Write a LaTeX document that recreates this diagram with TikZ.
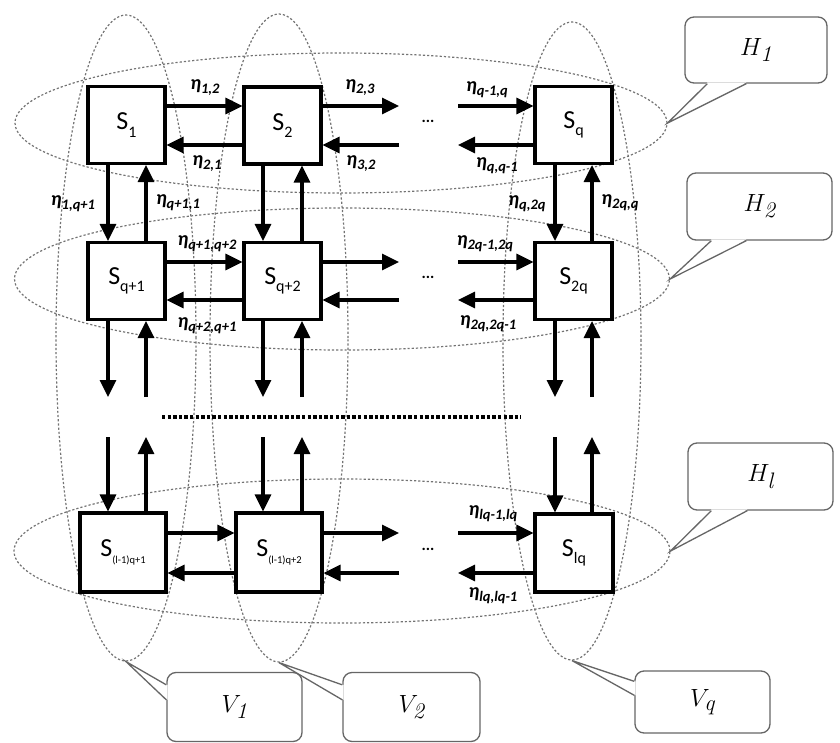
\documentclass[tikz,border=0pt]{standalone}
\usepackage{fontspec}
\usetikzlibrary{arrows.meta,shapes.geometric,calc}
\newfontfamily\lab{Carlito}
\newcommand\elab[1]{{\lab\bfseries\itshape\fontsize{20}{20}\selectfont η\raisebox{-0.2em}{\fontsize{14.5}{14.5}\selectfont #1}}}
\newcommand\slab[2][16]{{\lab\fontsize{26}{26}\selectfont S\raisebox{-0.28em}{\fontsize{#1}{#1}\selectfont #2}}}
\tikzset{
  sbox/.style={draw, line width=3.1pt, fill=white, minimum width=77pt, minimum height=77pt, inner sep=0pt},
  arr/.style={line width=3.1pt, -{Triangle[length=17pt,width=16pt]}},
  grp/.style={ellipse, draw=black!55, line width=1.2pt, dash pattern=on 2.2pt off 2pt, inner sep=0pt},
  cbox/.style={draw=black!60, line width=1.3pt, rounded corners=9pt, fill=white, inner sep=0pt},
  cline/.style={draw=black!60, line width=1.3pt},
  elabel/.style={inner sep=0pt},
  dotsrow/.style={line width=3.4pt, dash pattern=on 3.4pt off 2.2pt},
  gaps/.style={inner sep=0pt, font=\lab\bfseries\fontsize{16}{16}\selectfont}
}
\begin{document}
\begin{tikzpicture}[x=1pt,y=-1pt]
\useasboundingbox (0,0) rectangle (840,743);
% group ellipses
\node[grp, minimum width=652pt, minimum height=140pt] (H1) at (341,123) {};
\node[grp, minimum width=655pt, minimum height=142pt] (H2) at (342,279) {};
\node[grp, minimum width=656pt, minimum height=144pt] (Hl) at (342,551) {};
\node[grp, minimum width=140pt, minimum height=646pt] (V1) at (126,338) {};
\node[grp, minimum width=138pt, minimum height=648pt] (V2) at (279,338) {};
\node[grp, minimum width=138pt, minimum height=638pt] (Vq) at (572,341) {};
% boxes
\node[sbox] (S1) at (126.5,125) {\slab{1}};
\node[sbox] (S2) at (282.5,125.5) {\slab{2}};
\node[sbox] (Sq) at (573.5,125) {\slab{q}};
\node[sbox] (Sq1) at (126.5,281) {\slab{q+1}};
\node[sbox] (Sq2) at (282.5,281) {\slab{q+2}};
\node[sbox] (S2q) at (573.5,281) {\slab{2q}};
\node[sbox, minimum width=86pt, minimum height=79pt] (Sl1) at (123,552.5) {\slab[10.5]{(l-1)q+1}};
\node[sbox, minimum width=86pt, minimum height=79pt] (Sl2) at (279,552.5) {\slab[10.5]{(l-1)q+2}};
\node[sbox, minimum width=78pt, minimum height=78pt] (Slq) at (574,553) {\slab{lq}};
% reference lines
\coordinate (r1a) at (0,106); \coordinate (r1b) at (0,145);
\coordinate (r2a) at (0,262); \coordinate (r2b) at (0,300);
\coordinate (r3a) at (0,533); \coordinate (r3b) at (0,573);
\coordinate (c1d) at (108,0); \coordinate (c1u) at (146,0);
\coordinate (c2d) at (263,0); \coordinate (c2u) at (302,0);
\coordinate (cqd) at (555,0); \coordinate (cqu) at (592,0);
\coordinate (g1) at (399,0); \coordinate (g2) at (458,0);
\coordinate (vA) at (0,397); \coordinate (vB) at (0,437);
% horizontal arrows, row 1
\draw[arr] (S1.east |- r1a) -- (S2.west |- r1a);
\draw[arr] (S2.west |- r1b) -- (S1.east |- r1b);
\draw[arr] (S2.east |- r1a) -- (g1 |- r1a);
\draw[arr] (g1 |- r1b) -- (S2.east |- r1b);
\draw[arr] (g2 |- r1a) -- (Sq.west |- r1a);
\draw[arr] (Sq.west |- r1b) -- (g2 |- r1b);
% row 2
\draw[arr] (Sq1.east |- r2a) -- (Sq2.west |- r2a);
\draw[arr] (Sq2.west |- r2b) -- (Sq1.east |- r2b);
\draw[arr] (Sq2.east |- r2a) -- (g1 |- r2a);
\draw[arr] (g1 |- r2b) -- (Sq2.east |- r2b);
\draw[arr] (g2 |- r2a) -- (S2q.west |- r2a);
\draw[arr] (S2q.west |- r2b) -- (g2 |- r2b);
% row l
\draw[arr] (Sl1.east |- r3a) -- (Sl2.west |- r3a);
\draw[arr] (Sl2.west |- r3b) -- (Sl1.east |- r3b);
\draw[arr] (Sl2.east |- r3a) -- (g1 |- r3a);
\draw[arr] (g1 |- r3b) -- (Sl2.east |- r3b);
\draw[arr] (g2 |- r3a) -- (Slq.west |- r3a);
\draw[arr] (Slq.west |- r3b) -- (g2 |- r3b);
% vertical arrows between row 1 and row 2
\draw[arr] (S1.south -| c1d) -- (Sq1.north -| c1d);
\draw[arr] (Sq1.north -| c1u) -- (S1.south -| c1u);
\draw[arr] (S2.south -| c2d) -- (Sq2.north -| c2d);
\draw[arr] (Sq2.north -| c2u) -- (S2.south -| c2u);
\draw[arr] (Sq.south -| cqd) -- (S2q.north -| cqd);
\draw[arr] (S2q.north -| cqu) -- (Sq.south -| cqu);
% vertical arrows below row 2
\draw[arr] (Sq1.south -| c1d) -- (c1d |- vA);
\draw[arr] (c1u |- vA) -- (Sq1.south -| c1u);
\draw[arr] (Sq2.south -| c2d) -- (c2d |- vA);
\draw[arr] (c2u |- vA) -- (Sq2.south -| c2u);
\draw[arr] (S2q.south -| cqd) -- (cqd |- vA);
\draw[arr] (cqu |- vA) -- (S2q.south -| cqu);
% vertical arrows above row l
\draw[arr] (c1d |- vB) -- (Sl1.north -| c1d);
\draw[arr] (Sl1.north -| c1u) -- (c1u |- vB);
\draw[arr] (c2d |- vB) -- (Sl2.north -| c2d);
\draw[arr] (Sl2.north -| c2u) -- (c2u |- vB);
\draw[arr] (cqd |- vB) -- (Slq.north -| cqd);
\draw[arr] (Slq.north -| cqu) -- (cqu |- vB);
% dotted separator
\coordinate (dl) at (162,417); \coordinate (dr) at (521,417);
\draw[dotsrow] (dl) -- (dr);
% gap dots
\node[gaps] (d1) at (428,121) {...};
\node[gaps] (d2) at (428,277) {...};
\node[gaps] (d3) at (428,549) {...};
% labels
\node[elabel] (e12) at (205,88) {\elab{1,2}};
\node[elabel] (e23) at (360,88) {\elab{2,3}};
\node[elabel] (e21) at (207,164) {\elab{2,1}};
\node[elabel] (e32) at (361,164) {\elab{3,2}};
\node[elabel] (eq1q) at (487,90) {\elab{q-1,q}};
\node[elabel] (eqq1) at (497,166) {\elab{q,q-1}};
\node[elabel] (e1q1) at (73,204) {\elab{1,q+1}};
\node[elabel] (eq11) at (178,203) {\elab{q+1,1}};
\node[elabel] (eq2q) at (527,204) {\elab{q,2q}};
\node[elabel] (e2qq) at (620,203) {\elab{2q,q}};
\node[elabel] (eq1q2) at (207,244) {\elab{q+1,q+2}};
\node[elabel] (eq2q1) at (207,326) {\elab{q+2,q+1}};
\node[elabel] (e2q12q) at (485,244) {\elab{2q-1,2q}};
\node[elabel] (e2q2q1) at (488,324) {\elab{2q,2q-1}};
\node[elabel] (elq1lq) at (493,514) {\elab{lq-1,lq}};
\node[elabel] (elqlq1) at (493,596) {\elab{lq,lq-1}};
% callouts
\node[cbox, minimum width=142pt, minimum height=66pt] (cH1) at (756,50) {\fontsize{32}{32}\selectfont$H_{\mathit{1}}$};
\node[cbox, minimum width=145pt, minimum height=67pt] (cH2) at (759.5,206.5) {\fontsize{32}{32}\selectfont$H_{\mathit{2}}$};
\node[cbox, minimum width=145pt, minimum height=67pt] (cHl) at (760.5,476.5) {\fontsize{32}{32}\selectfont$H_{\mathit{l}}$};
\node[cbox, minimum width=135pt, minimum height=69pt] (cV1) at (234.5,707) {\fontsize{32}{32}\selectfont$V_{\mathit{1}}$};
\node[cbox, minimum width=137pt, minimum height=69pt] (cV2) at (411.5,707) {\fontsize{32}{32}\selectfont$V_{\mathit{2}}$};
\node[cbox, minimum width=135pt, minimum height=62pt] (cVq) at (702.5,702) {\fontsize{32}{32}\selectfont$V_{\mathit{q}}$};
% pointers
\fill[white] ([xshift=23pt,yshift=1.2pt]cH1.south west) -- (H1.east) -- ([xshift=62pt,yshift=1.2pt]cH1.south west) -- cycle;
\draw[cline] ([xshift=23pt]cH1.south west) -- (H1.east) -- ([xshift=62pt]cH1.south west);
\fill[white] ([xshift=25pt,yshift=1.2pt]cH2.south west) -- (H2.east) -- ([xshift=60pt,yshift=1.2pt]cH2.south west) -- cycle;
\draw[cline] ([xshift=25pt]cH2.south west) -- (H2.east) -- ([xshift=60pt]cH2.south west);
\fill[white] ([xshift=24pt,yshift=1.2pt]cHl.south west) -- (Hl.east) -- ([xshift=60pt,yshift=1.2pt]cHl.south west) -- cycle;
\draw[cline] ([xshift=24pt]cHl.south west) -- (Hl.east) -- ([xshift=60pt]cHl.south west);
\fill[white] ([xshift=1.2pt,yshift=-13pt]cV1.north west) -- (V1.south) -- ([xshift=1.2pt,yshift=-28pt]cV1.north west) -- cycle;
\draw[cline] ([yshift=-13pt]cV1.north west) -- (V1.south) -- ([yshift=-28pt]cV1.north west);
\fill[white] ([xshift=1.2pt,yshift=-13pt]cV2.north west) -- (V2.south) -- ([xshift=1.2pt,yshift=-28pt]cV2.north west) -- cycle;
\draw[cline] ([yshift=-13pt]cV2.north west) -- (V2.south) -- ([yshift=-28pt]cV2.north west);
\fill[white] ([xshift=1.2pt,yshift=-11pt]cVq.north west) -- (Vq.south) -- ([xshift=1.2pt,yshift=-25pt]cVq.north west) -- cycle;
\draw[cline] ([yshift=-11pt]cVq.north west) -- (Vq.south) -- ([yshift=-25pt]cVq.north west);
\end{tikzpicture}
\end{document}
